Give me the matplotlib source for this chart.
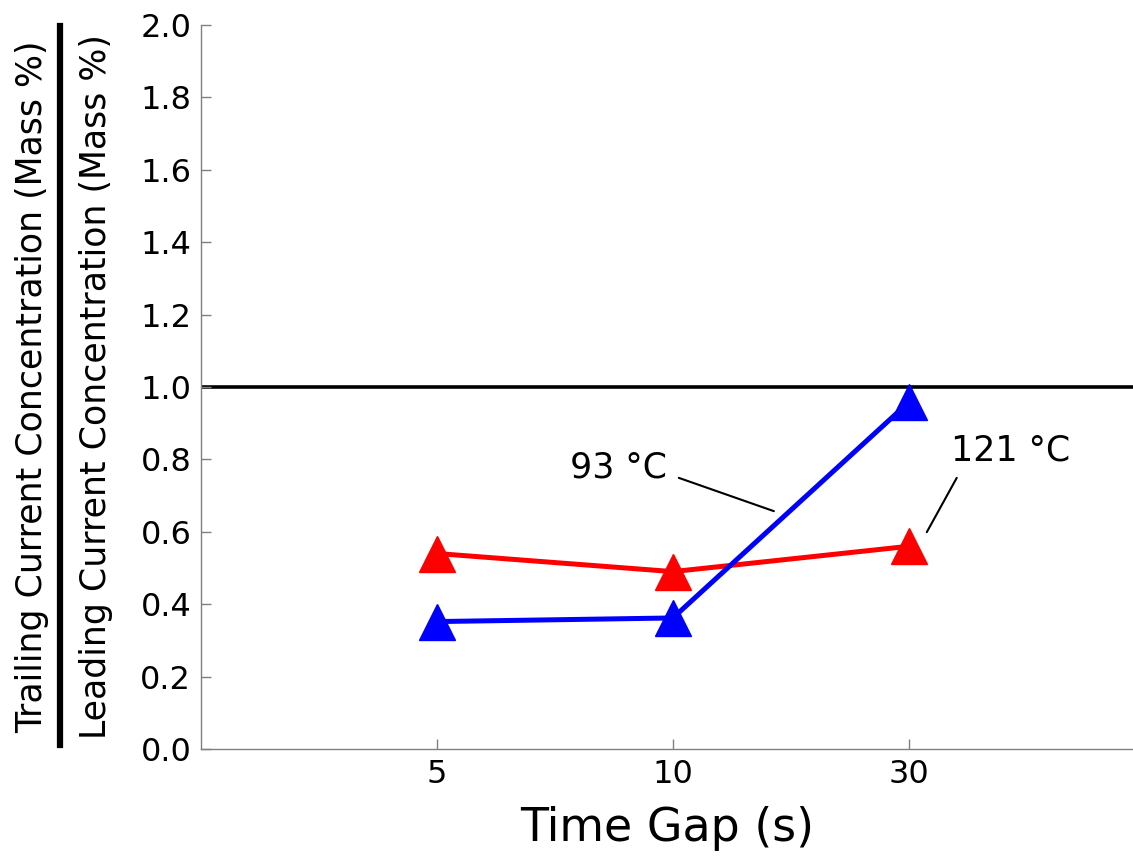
import matplotlib
matplotlib.use('Agg')
import matplotlib.pyplot as plt
from matplotlib.lines import Line2D

# x 轴为等距类别
gaps = ['5', '10', '30']
x_pos = [1, 2, 3]

# 各温度下的浓度比
ratio_93 = [0.352, 0.362, 0.958]
ratio_121 = [0.540, 0.490, 0.560]

y_ticks = [0.0, 0.2, 0.4, 0.6, 0.8, 1.0, 1.2, 1.4, 1.6, 1.8, 2.0]

GRAY = '#808080'

fig = plt.figure(figsize=(11.33, 8.56), dpi=100)
ax = fig.add_axes([201 / 1133, 107 / 856, 1 - 201 / 1133, 724 / 856])

ax.axhline(1.0, color='black', linewidth=2.6, zorder=1)

ax.plot(x_pos, ratio_121, color='#ff0000', linewidth=3.6, marker='^',
        markersize=26, zorder=3)
ax.plot(x_pos, ratio_93, color='#0000ff', linewidth=3.6, marker='^',
        markersize=26, zorder=3)

# 标注
ax.text(1.771, 0.749, '93 °C', ha='center', va='baseline', fontsize=25)
ax.annotate('', xy=(2.428, 0.657), xytext=(2.025, 0.749),
            arrowprops=dict(arrowstyle='-', color='black', lw=1.5,
                            shrinkA=0, shrinkB=0))
ax.text(3.432, 0.796, '121 °C', ha='center', va='baseline', fontsize=25)
ax.annotate('', xy=(3.076, 0.599), xytext=(3.203, 0.749),
            arrowprops=dict(arrowstyle='-', color='black', lw=1.5,
                            shrinkA=0, shrinkB=0))

ax.set_xlim(0, 3.95)
ax.set_ylim(0, 2.0)
ax.set_xticks(x_pos)
ax.set_xticklabels(gaps)
ax.set_yticks(y_ticks)
ax.set_yticklabels([f'{v:.1f}' for v in y_ticks])

for side in ['top', 'right']:
    ax.spines[side].set_visible(False)
for side in ['left', 'bottom']:
    ax.spines[side].set_color(GRAY)
    ax.spines[side].set_linewidth(1.0)

ax.tick_params(direction='in', length=7, width=1, color=GRAY,
               labelsize=23, pad=7)
ax.set_xlabel('Time Gap (s)', fontsize=33, labelpad=12)

# 分式形式的 y 轴标题
y_mid = 1 - 387 / 856
fig.text(42 / 1133, y_mid, 'Trailing Current Concentration (Mass %)',
         rotation=90, rotation_mode='anchor', ha='center', va='baseline',
         fontsize=25)
fig.text(106 / 1133, y_mid, 'Leading Current Concentration (Mass %)',
         rotation=90, rotation_mode='anchor', ha='center', va='baseline',
         fontsize=25)
fig.add_artist(Line2D([60 / 1133, 60 / 1133], [1 - 745 / 856, 1 - 26 / 856],
                      color='black', linewidth=4.5, transform=fig.transFigure))

fig.savefig('out.png', dpi=100)
